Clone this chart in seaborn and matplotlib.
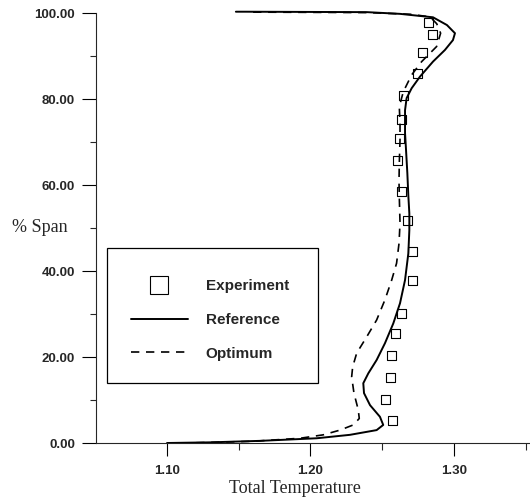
import matplotlib
matplotlib.use("Agg")
import matplotlib.pyplot as plt
import seaborn as sns
from matplotlib.lines import Line2D
from matplotlib.patches import Rectangle
from matplotlib.ticker import FormatStrFormatter, MultipleLocator

# ---------------------------------------------------------------------------
# Data
# ---------------------------------------------------------------------------

exp_temp = [1.2826, 1.2847, 1.2784, 1.2749, 1.2645, 1.2631, 1.2617, 1.2603, 1.2631,
            1.2675, 1.2709, 1.2709, 1.2636, 1.2596, 1.2566, 1.2559, 1.2526, 1.2570]
exp_span = [97.9, 94.9, 90.9, 86.0, 80.7, 75.3, 70.7, 65.6, 58.4,
            51.7, 44.5, 37.9, 30.2, 25.5, 20.3, 15.2, 10.2, 5.2]

ref_temp = [1.148, 1.1544, 1.2394, 1.2624, 1.2854, 1.2951, 1.3007, 1.2993, 1.2937,
            1.2854, 1.2763, 1.2705, 1.2670, 1.2659, 1.2659, 1.2666, 1.2675, 1.2682,
            1.2689, 1.2689, 1.2682, 1.2659, 1.2624, 1.2577, 1.2519, 1.2461, 1.2403,
            1.2368, 1.2373, 1.2415, 1.2484, 1.2507, 1.2461, 1.2275, 1.2043, 1.165,
            1.130, 1.100]
ref_span = [100.3, 100.3, 100.2, 99.8, 99.0, 97.2, 95.3, 93.7, 91.4,
            88.7, 85.2, 82.5, 80.2, 77.4, 72.1, 68.1, 62.8, 57.5,
            53.4, 49.5, 44.1, 37.9, 32.5, 27.8, 23.2, 19.3, 16.2,
            13.9, 11.6, 8.8, 6.1, 4.2, 3.0, 1.9, 1.1, 0.5,
            0.15, 0.0]

opt_temp = [1.160, 1.2394, 1.2700, 1.2833, 1.2880, 1.2907, 1.2879, 1.2775, 1.2705,
            1.2647, 1.2619, 1.2624, 1.2624, 1.2619, 1.2617, 1.2619, 1.2624, 1.2617,
            1.2600, 1.2566, 1.2519, 1.2461, 1.2392, 1.2322, 1.2294, 1.2287, 1.2303,
            1.2333, 1.2340, 1.2298, 1.2206, 1.2089, 1.1927, 1.160, 1.120]
opt_span = [100.2, 100.1, 99.7, 99.1, 97.5, 95.3, 92.2, 88.7, 85.6,
            81.7, 78.2, 74.3, 70.5, 65.0, 60.8, 57.3, 51.1, 46.4,
            41.8, 37.9, 33.3, 28.6, 24.7, 20.9, 17.7, 15.4, 11.6,
            7.7, 5.7, 4.2, 3.0, 1.9, 1.1, 0.4, 0.05]

legend_labels = ["Experiment", "Reference", "Optimum"]

# ---------------------------------------------------------------------------
# Style
# ---------------------------------------------------------------------------

sns.set_style("ticks")
plt.rcParams["font.family"] = ["Liberation Sans", "DejaVu Sans"]
plt.rcParams["font.weight"] = "bold"
plt.rcParams["axes.linewidth"] = 0.8

W, H = 530, 504
fig = plt.figure(figsize=(W / 100, H / 100), dpi=100)
ax = fig.add_axes([96 / W, 61 / H, 434 / W, 430 / H])

# ---------------------------------------------------------------------------
# Curves
# ---------------------------------------------------------------------------

sns.lineplot(x=ref_temp, y=ref_span, sort=False, estimator=None, ax=ax,
             color="black", linewidth=1.4, clip_on=False)
sns.lineplot(x=opt_temp, y=opt_span, sort=False, estimator=None, ax=ax,
             color="black", linewidth=1.2, linestyle=(0, (5, 4)), clip_on=False)
sns.scatterplot(x=exp_temp, y=exp_span, ax=ax, marker="s", s=42,
                facecolor="none", edgecolor="black", linewidth=0.8, zorder=3)

# ---------------------------------------------------------------------------
# Axes
# ---------------------------------------------------------------------------

ax.set_xlim(1.0505, 1.353)
ax.set_ylim(0, 100)
sns.despine(ax=ax)

ax.xaxis.set_major_locator(MultipleLocator(0.1))
ax.xaxis.set_minor_locator(MultipleLocator(0.05))
ax.yaxis.set_major_locator(MultipleLocator(20))
ax.yaxis.set_minor_locator(MultipleLocator(10))
ax.xaxis.set_major_formatter(FormatStrFormatter("%.2f"))
ax.yaxis.set_major_formatter(FormatStrFormatter("%.2f"))

ax.tick_params(axis="both", which="major", labelsize=9.5, width=0.8, color="black")
ax.tick_params(axis="x", which="major", length=9.5, pad=6)
ax.tick_params(axis="x", which="minor", length=5, width=0.8)
ax.tick_params(axis="y", which="major", length=10, pad=5)
ax.tick_params(axis="y", which="minor", length=4.3, width=0.8)

ax.set_xlabel("Total Temperature", family=["Liberation Serif", "DejaVu Serif"],
              fontweight="normal", fontsize=13)
ax.xaxis.set_label_coords((295 - 96) / 434, -37 / 430)
ax.set_ylabel("% Span", family=["Liberation Serif", "DejaVu Serif"],
              fontweight="normal", fontsize=13, rotation=0, ha="left", va="center")
ax.yaxis.set_label_coords((12 - 96) / 434, 0.5)

# ---------------------------------------------------------------------------
# Legend (box drawn separately so the padding matches the original)
# ---------------------------------------------------------------------------

fig.add_artist(Rectangle((107 / W, 1 - 383 / H), 211 / W, 135 / H,
                         transform=fig.transFigure, fill=False,
                         edgecolor="black", linewidth=0.9))
handles = [
    Line2D([], [], ls="none", marker="s", ms=13.5, mfc="none", mec="black", mew=0.8),
    Line2D([], [], color="black", lw=1.4),
    Line2D([], [], color="black", lw=1.2, ls=(0, (5, 4))),
]
fig.legend(handles, legend_labels, loc="upper left",
           bbox_to_anchor=(131 / W, 1 - 279 / H), bbox_transform=fig.transFigure,
           frameon=False, fontsize=11, borderpad=0, borderaxespad=0,
           handlelength=3.7, handletextpad=1.2, labelspacing=1.3)

fig.savefig("out.png", dpi=100)
